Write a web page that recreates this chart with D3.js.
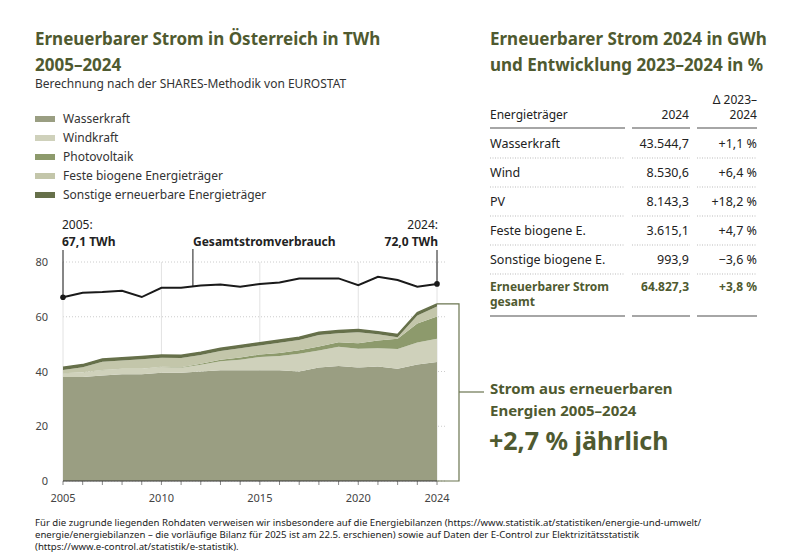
<!DOCTYPE html>
<html><head><meta charset="utf-8">
<script src="https://cdn.jsdelivr.net/npm/d3@7"></script>
<style>
body{margin:0;background:#fff;font-family:"Noto Sans",sans-serif;}
text{font-family:"Noto Sans",sans-serif;}
</style></head>
<body><svg id="c" width="800" height="558"></svg>
<script>
const years = d3.range(2005, 2025);
const wasser = [38,38,38.5,39,39,39.5,39.5,40,40.5,40.5,40.5,40.5,40,41.5,42,41.5,41.8,41,42.6,43.5];
const wind = [1.3,1.7,2.0,2.0,2.0,2.1,1.9,2.5,3.2,3.8,4.8,5.2,6.5,6.2,7.0,6.8,6.7,7.2,8.0,8.5];
const pv = [0.02,0.02,0.03,0.03,0.05,0.09,0.17,0.34,0.6,0.8,0.9,1.1,1.3,1.4,1.7,2.0,2.8,3.8,6.9,8.1];
const feste = [1.2,1.8,3.0,3.0,3.4,3.3,3.4,3.2,3.2,3.4,3.3,3.7,3.7,4.2,3.3,4.0,2.3,0.5,3.0,3.6];
const sonstige = [1.0,1.0,1.0,1.0,1.0,1.0,1.0,1.0,1.0,1.0,1.0,1.0,1.0,1.0,1.0,1.0,0.9,1.0,1.0,1.0];
const verbrauch = [67.1,68.8,69.0,69.5,67.2,70.6,70.6,71.4,71.8,71.0,72.0,72.5,74.0,74.0,74.0,71.5,74.6,73.4,71.0,72.0];
const seriesNames = ["Wasserkraft","Windkraft","Photovoltaik","Feste biogene Energieträger","Sonstige erneuerbare Energieträger"];
const colors = ["#9a9e82","#cfd1bb","#8d9a6c","#c3c6aa","#66704a"];
const yTicks = [0,20,40,60,80];
const xTicks = [2005,2010,2015,2020,2024];
const tableRows = [["Wasserkraft","43.544,7","+1,1 %"],["Wind","8.530,6","+6,4 %"],["PV","8.143,3","+18,2 %"],["Feste biogene E.","3.615,1","+4,7 %"],["Sonstige biogene E.","993,9","−3,6 %"]];

const green = "#4f5a30";
const svg = d3.select("#c");
const x = d3.scaleLinear().domain([2005,2024]).range([63,437]);
const y = d3.scaleLinear().domain([0,80]).range([481,262]);

// titles
svg.append("text").attr("x",35).attr("y",45).attr("font-size",17).attr("font-weight",700).attr("fill",green).text("Erneuerbarer Strom in Österreich in TWh");
svg.append("text").attr("x",35).attr("y",71).attr("font-size",17).attr("font-weight",700).attr("fill",green).text("2005–2024");
svg.append("text").attr("x",35).attr("y",88).attr("font-size",12).attr("fill","#333").text("Berechnung nach der SHARES-Methodik von EUROSTAT");

// legend
seriesNames.forEach((n,i)=>{
  const ly = 119 + i*19;
  svg.append("rect").attr("x",35).attr("y",ly-3).attr("width",20).attr("height",6).attr("fill",colors[i]);
  svg.append("text").attr("x",63).attr("y",ly+4).attr("font-size",12).attr("fill","#333").text(n);
});

// grid
const g = svg.append("g");
yTicks.forEach(t=>{
  g.append("line").attr("x1",63).attr("x2",445).attr("y1",y(t)).attr("y2",y(t)).attr("stroke","#ccc").attr("stroke-dasharray","1,2");
  g.append("text").attr("x",48).attr("y",y(t)+4).attr("text-anchor","end").attr("font-size",11).attr("fill","#444").text(t);
});
years.forEach(yr=>{
  g.append("line").attr("x1",x(yr)).attr("x2",x(yr)).attr("y1",481).attr("y2",485).attr("stroke","#888");
});
xTicks.forEach(yr=>{
  g.append("line").attr("x1",x(yr)).attr("x2",x(yr)).attr("y1",262).attr("y2",481).attr("stroke","#e2e2e2");
  g.append("text").attr("x",x(yr)).attr("y",502).attr("text-anchor","middle").attr("font-size",11).attr("fill","#444").text(yr);
});

// stacked areas
const data = years.map((yr,i)=>({year:yr,s0:wasser[i],s1:wind[i],s2:pv[i],s3:feste[i],s4:sonstige[i]}));
const stack = d3.stack().keys(["s0","s1","s2","s3","s4"])(data);
const area = d3.area().x(d=>x(d.data.year)).y0(d=>y(d[0])).y1(d=>y(d[1]));
svg.selectAll(".a").data(stack).join("path").attr("d",area).attr("fill",(d,i)=>colors[i]);
const topLayer = stack[4];
svg.append("path").attr("d",d3.line().x(d=>x(d.data.year)).y(d=>y(d[1]))(topLayer)).attr("fill","none").attr("stroke","#66704a").attr("stroke-width",1.5);
svg.append("line").attr("x1",63).attr("x2",437).attr("y1",481).attr("y2",481).attr("stroke","#333");

// consumption line
const line = d3.line().x((d,i)=>x(years[i])).y(d=>y(d));
svg.append("path").attr("d",line(verbrauch)).attr("fill","none").attr("stroke","#1a1a1a").attr("stroke-width",2);
[0,19].forEach(i=>svg.append("circle").attr("cx",x(years[i])).attr("cy",y(verbrauch[i])).attr("r",2.8).attr("fill","#1a1a1a"));
svg.append("line").attr("x1",x(2005)).attr("x2",x(2005)).attr("y1",y(verbrauch[0])).attr("y2",250).attr("stroke","#1a1a1a");
svg.append("line").attr("x1",x(2011.6)).attr("x2",x(2011.6)).attr("y1",y(71.2)).attr("y2",249).attr("stroke","#1a1a1a");
svg.append("line").attr("x1",x(2024)).attr("x2",x(2024)).attr("y1",y(verbrauch[19])).attr("y2",250).attr("stroke","#1a1a1a");
svg.append("text").attr("x",62).attr("y",229).attr("font-size",12).attr("fill","#222").text("2005:");
svg.append("text").attr("x",62).attr("y",246).attr("font-size",12).attr("font-weight",700).attr("fill","#222").text("67,1 TWh");
svg.append("text").attr("x",193).attr("y",246).attr("font-size",12).attr("font-weight",700).attr("fill","#222").text("Gesamtstromverbrauch");
svg.append("text").attr("x",438).attr("y",229).attr("font-size",12).attr("text-anchor","end").attr("fill","#222").text("2024:");
svg.append("text").attr("x",438).attr("y",246).attr("font-size",12).attr("text-anchor","end").attr("font-weight",700).attr("fill","#222").text("72,0 TWh");

// bracket
const yTop = y(topLayer[19][1]);
svg.append("path").attr("d",`M${x(2024)},${yTop}H459V481H${x(2024)}`).attr("fill","none").attr("stroke","#6b7550").attr("stroke-width",1.2);
svg.append("line").attr("x1",459).attr("x2",484).attr("y1",392).attr("y2",392).attr("stroke","#6b7550").attr("stroke-width",1.2);
svg.append("text").attr("x",490).attr("y",394).attr("font-size",15).attr("font-weight",700).attr("fill",green).text("Strom aus erneuerbaren");
svg.append("text").attr("x",490).attr("y",416).attr("font-size",15).attr("font-weight",700).attr("fill",green).text("Energien 2005–2024");
svg.append("text").attr("x",489).attr("y",450).attr("font-size",25).attr("font-weight",700).attr("fill",green).text("+2,7 % jährlich");

// table
svg.append("text").attr("x",490).attr("y",45).attr("font-size",17).attr("font-weight",700).attr("fill",green).text("Erneuerbarer Strom 2024 in GWh");
svg.append("text").attr("x",490).attr("y",71).attr("font-size",17).attr("font-weight",700).attr("fill",green).text("und Entwicklung 2023–2024 in %");
const cols = [[490,625],[632,690],[697,757]];
svg.append("text").attr("x",490).attr("y",119).attr("font-size",12).attr("fill","#222").text("Energieträger");
svg.append("text").attr("x",689).attr("y",119).attr("font-size",12).attr("text-anchor","end").attr("fill","#222").text("2024");
svg.append("text").attr("x",757).attr("y",104).attr("font-size",12).attr("text-anchor","end").attr("fill","#222").text("Δ 2023–");
svg.append("text").attr("x",757).attr("y",119).attr("font-size",12).attr("text-anchor","end").attr("fill","#222").text("2024");
const hline=(yy,dash)=>cols.forEach(c=>svg.append("line").attr("x1",c[0]).attr("x2",c[1]).attr("y1",yy).attr("y2",yy).attr("stroke",dash?"#bbb":"#888").attr("stroke-width",dash?1:1.5).attr("stroke-dasharray",dash?"1,1.5":null));
hline(128,false);
tableRows.forEach((r,i)=>{
  const ry = 148 + i*29;
  svg.append("text").attr("x",490).attr("y",ry).attr("font-size",12.5).attr("fill","#222").text(r[0]);
  svg.append("text").attr("x",689).attr("y",ry).attr("font-size",12.5).attr("text-anchor","end").attr("fill","#222").text(r[1]);
  svg.append("text").attr("x",757).attr("y",ry).attr("font-size",12.5).attr("text-anchor","end").attr("fill","#222").text(r[2]);
  hline(ry+10,true);
});
svg.append("text").attr("x",490).attr("y",291).attr("font-size",12).attr("font-weight",700).attr("fill",green).text("Erneuerbarer Strom");
svg.append("text").attr("x",490).attr("y",306).attr("font-size",12).attr("font-weight",700).attr("fill",green).text("gesamt");
svg.append("text").attr("x",689).attr("y",291).attr("font-size",12).attr("font-weight",700).attr("text-anchor","end").attr("fill",green).text("64.827,3");
svg.append("text").attr("x",757).attr("y",291).attr("font-size",12).attr("font-weight",700).attr("text-anchor","end").attr("fill",green).text("+3,8 %");
hline(316,false);

// footnote
const fn = ["Für die zugrunde liegenden Rohdaten verweisen wir insbesondere auf die Energiebilanzen (https://www.statistik.at/statistiken/energie-und-umwelt/",
"energie/energiebilanzen – die vorläufige Bilanz für 2025 ist am 22.5. erschienen) sowie auf Daten der E-Control zur Elektrizitätsstatistik",
"(https://www.e-control.at/statistik/e-statistik)."];
fn.forEach((t,i)=>svg.append("text").attr("x",35).attr("y",526+i*12).attr("font-size",9.6).attr("fill","#222").text(t));
</script></body></html>
